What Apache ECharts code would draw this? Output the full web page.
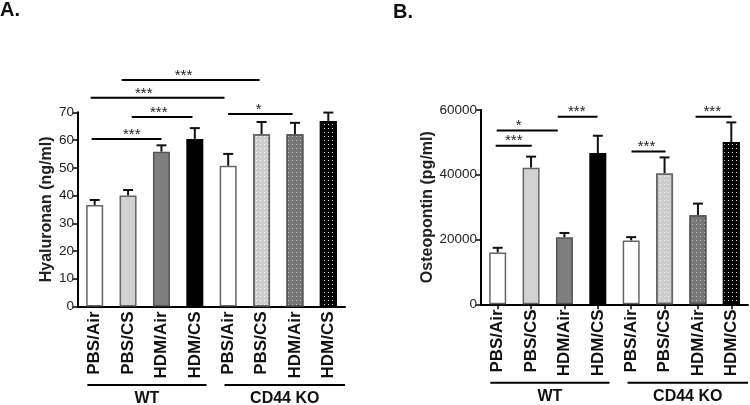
<!DOCTYPE html>
<html><head><meta charset="utf-8">
<script src="https://cdn.jsdelivr.net/npm/echarts@6/dist/echarts.min.js"></script>
<style>html,body{margin:0;padding:0;background:#fff}#c{width:750px;height:405px}</style>
</head><body><div id="c"></div>
<script>
// ---------- data ----------
const categories = ['PBS/Air','PBS/CS','HDM/Air','HDM/CS','PBS/Air','PBS/CS','HDM/Air','HDM/CS'];
const groups = ['WT','CD44 KO'];
const groupSpans = [[-0.22, 3.35], [3.89, 7.5]];
const hyaluronanMean = [36.6, 40.0, 55.8, 60.4, 50.7, 62.1, 62.1, 66.9];
const hyaluronanErr  = [1.8, 2.0, 2.3, 3.9, 4.3, 4.4, 4.1, 3.0];
const osteopontinMean = [16000, 42200, 20700, 46700, 19700, 40400, 27500, 50100];
const osteopontinErr  = [1450, 3400, 1330, 5350, 1040, 4960, 3600, 6070];
const hyaluronanTicks = {min: 0, max: 70, interval: 10};
const osteopontinTicks = {min: 0, max: 60000, interval: 20000};
// significance brackets: [from, to, level, starPosition, label]
const hyaluronanSig = [
  [0.81, 4.94, 81.6, 2.66, '***'],
  [-0.12, 3.89, 75.2, 1.47, '***'],
  [1.11, 2.93, 68.3, 1.92, '***'],
  [4.0, 5.93, 69.4, 4.91, '*'],
  [-0.09, 2.0, 60.4, 1.11, '***']
];
const osteopontinSig = [
  [-0.03, 1.80, 53660, 0.63, '*'],
  [-0.06, 1.02, 48930, 0.48, '***'],
  [1.80, 2.99, 57900, 2.37, '***'],
  [4.01, 5.03, 47170, 4.46, '***'],
  [5.93, 7.01, 57900, 6.43, '***']
];

// ---------- styles ----------
const FONT = 'Liberation Sans, Arial, sans-serif';
function dots(c){ return {symbol:'rect', symbolSize:1, color:c, dashArrayX:[1,3], dashArrayY:[1,3], rotation:0}; }
const barStyles = [
  {color:'#ffffff', borderColor:'#666', borderWidth:1.5},
  {color:'#d2d2d2', borderColor:'#666', borderWidth:1.5},
  {color:'#7f7f7f', borderColor:'#555', borderWidth:1.5},
  {color:'#000000', borderColor:'#000', borderWidth:1.5},
  {color:'#ffffff', borderColor:'#666', borderWidth:1.5},
  {color:'#cdcdcd', borderColor:'#666', borderWidth:1.5, decal:dots('rgba(255,255,255,0.8)')},
  {color:'#777777', borderColor:'#555', borderWidth:1.5, decal:dots('rgba(210,210,210,0.8)')},
  {color:'#000000', borderColor:'#000', borderWidth:1.5, decal:dots('rgba(255,255,255,0.85)')}
];

function errorRender(params, api){
  const x = api.value(0), m = api.value(1), e = api.value(2);
  const p0 = api.coord([x, m]), p1 = api.coord([x, m + e]);
  return {type:'group', children:[
    {type:'line', shape:{x1:p0[0], y1:p0[1], x2:p1[0], y2:p1[1]}, style:{stroke:'#111', lineWidth:2}},
    {type:'line', shape:{x1:p1[0]-5, y1:p1[1], x2:p1[0]+5, y2:p1[1]}, style:{stroke:'#111', lineWidth:2}}
  ]};
}
function sigRender(list){
  return function(params, api){
    const d = list[params.dataIndex];
    const a = api.coord([d[0], d[2]]), b = api.coord([d[1], d[2]]), s = api.coord([d[3], d[2]]);
    return {type:'group', children:[
      {type:'line', shape:{x1:a[0], y1:a[1], x2:b[0], y2:b[1]}, style:{stroke:'#000', lineWidth:2}},
      {type:'text', x:s[0], y:a[1]+3, style:{text:d[4], align:'center', verticalAlign:'bottom', font:'15px ' + FONT, fill:'#222'}}
    ]};
  };
}
function groupRender(params, api){
  const i = params.dataIndex;
  const a = api.coord([groupSpans[i][0], 0]), b = api.coord([groupSpans[i][1], 0]);
  const y = a[1] + 78.5;
  return {type:'group', children:[
    {type:'line', shape:{x1:a[0], y1:y, x2:b[0], y2:y}, style:{stroke:'#000', lineWidth:2}},
    {type:'text', x:(a[0]+b[0])/2, y:y+14, style:{text:groups[i], align:'center', verticalAlign:'middle', font:'bold 16px ' + FONT, fill:'#111'}}
  ]};
}

function catAxis(grid, ticks){
  return {type:'category', gridIndex:grid, data:categories,
    axisLine:{onZero:false, lineStyle:{color:'#000', width:2}},
    axisTick:{show:ticks, alignWithLabel:true, length:5, lineStyle:{color:'#000', width:1.5}},
    axisLabel:{rotate:90, interval:0, margin:5, fontSize:17, fontWeight:'bold', color:'#111', fontFamily:FONT}};
}
function hiddenAxis(grid){ return {type:'value', gridIndex:grid, min:-0.5, max:7.5, show:false, axisLine:{onZero:false}}; }
function valAxis(grid, t, name, gap){
  return {type:'value', gridIndex:grid, min:t.min, max:t.max, interval:t.interval,
    axisLine:{show:true, onZero:false, lineStyle:{color:'#000', width:2}},
    axisTick:{show:true, length:5, lineStyle:{color:'#000', width:1.5}},
    axisLabel:{fontSize:13.5, color:'#222', margin:4, fontFamily:FONT, formatter:v=>String(v)},
    splitLine:{show:false},
    name:name, nameLocation:'middle', nameGap:gap,
    nameTextStyle:{fontWeight:'bold', fontSize:16, color:'#222', fontFamily:FONT}};
}
function barData(means){ return means.map((v,i)=>({value:v, itemStyle:barStyles[i]})); }

const chart = echarts.init(document.getElementById('c'), null, {renderer:'canvas'});
chart.setOption({
  animation:false,
  title:[
    {text:'A.', left:0, top:0, padding:0, textStyle:{fontSize:20, fontWeight:'bold', color:'#111', fontFamily:FONT}},
    {text:'B.', left:393, top:2, padding:0, textStyle:{fontSize:20, fontWeight:'bold', color:'#111', fontFamily:FONT}}
  ],
  grid:[
    {left:78, top:112.3, width:267, height:194.2},
    {left:481, top:110, width:267, height:194.3}
  ],
  xAxis:[catAxis(0,false), hiddenAxis(0), catAxis(1,true), hiddenAxis(1)],
  yAxis:[valAxis(0, hyaluronanTicks, 'Hyaluronan (ng/ml)', 23), valAxis(1, osteopontinTicks, 'Osteopontin (pg/ml)', 44)],
  series:[
    {type:'bar', xAxisIndex:0, yAxisIndex:0, barWidth:17, data:barData(hyaluronanMean), z:3},
    {type:'custom', xAxisIndex:1, yAxisIndex:0, clip:false, z:2, renderItem:errorRender,
      data:hyaluronanMean.map((m,i)=>[i, m, hyaluronanErr[i]])},
    {type:'custom', xAxisIndex:1, yAxisIndex:0, clip:false, z:4, renderItem:sigRender(hyaluronanSig),
      data:hyaluronanSig.map(d=>[d[3], d[2]])},
    {type:'custom', xAxisIndex:1, yAxisIndex:0, clip:false, z:4, renderItem:groupRender,
      data:groupSpans.map(g=>[g[0], 0])},
    {type:'bar', xAxisIndex:2, yAxisIndex:1, barWidth:17, data:barData(osteopontinMean), z:3},
    {type:'custom', xAxisIndex:3, yAxisIndex:1, clip:false, z:2, renderItem:errorRender,
      data:osteopontinMean.map((m,i)=>[i, m, osteopontinErr[i]])},
    {type:'custom', xAxisIndex:3, yAxisIndex:1, clip:false, z:4, renderItem:sigRender(osteopontinSig),
      data:osteopontinSig.map(d=>[d[3], d[2]])},
    {type:'custom', xAxisIndex:3, yAxisIndex:1, clip:false, z:4, renderItem:groupRender,
      data:groupSpans.map(g=>[g[0], 0])}
  ]
});
</script></body></html>
